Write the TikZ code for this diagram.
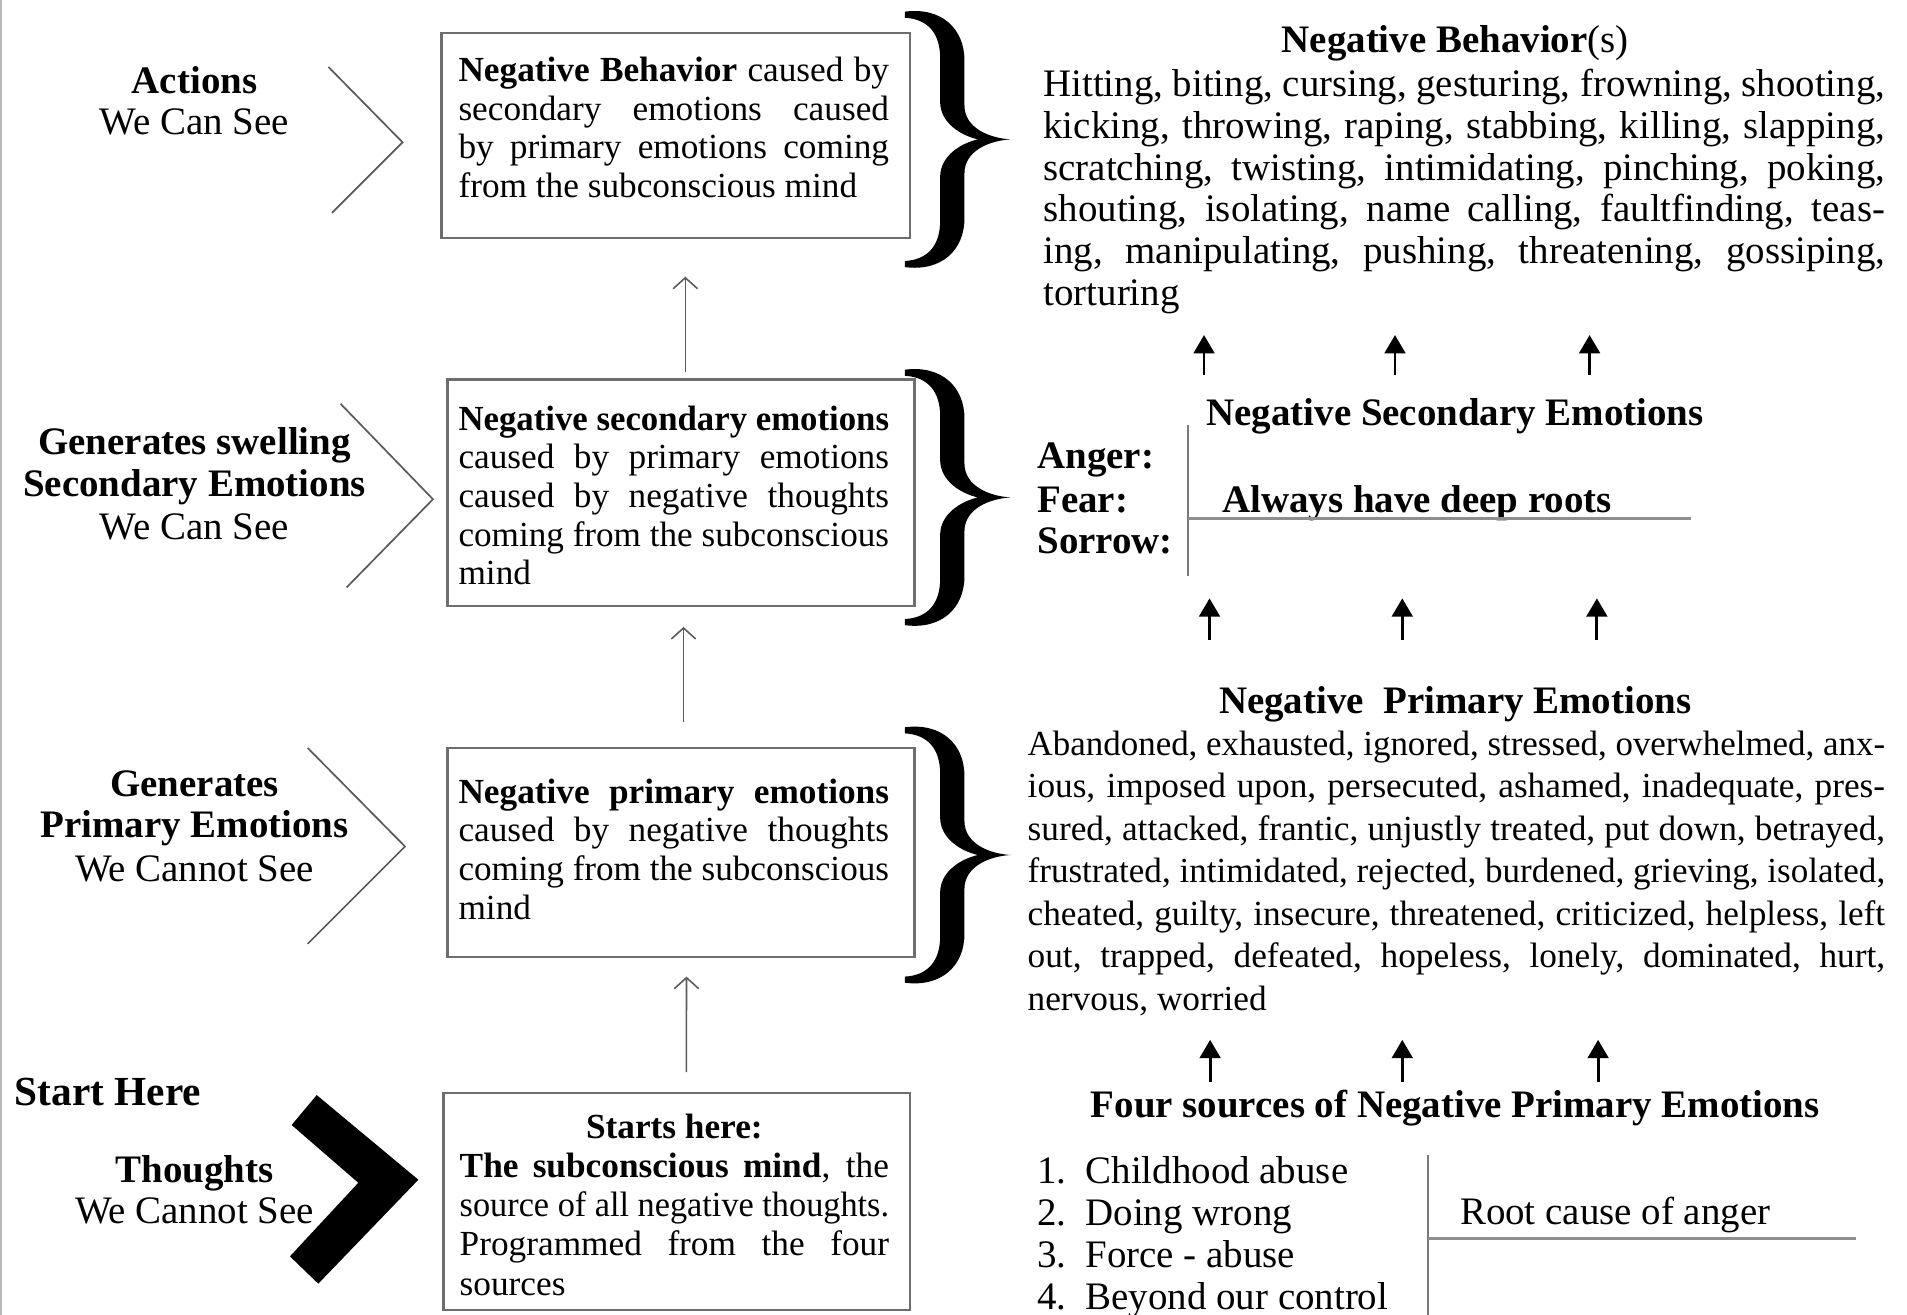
\documentclass[tikz,border=0pt]{standalone}
\usepackage{fontspec}
\setmainfont{Liberation Serif}
\usepackage{graphicx}
\usetikzlibrary{arrows.meta}
\definecolor{boxgray}{HTML}{6E6E6E}
\definecolor{chevgray}{HTML}{5A5A5A}
\definecolor{arrgray}{HTML}{5A5A5A}
\definecolor{rulegray}{HTML}{7A7A7A}
\newlength\jlen
\newcommand\jline[2]{\settowidth\jlen{#2}\ifdim\jlen>#1\relax\resizebox{#1}{\height}{#2}\else\makebox[#1][s]{#2}\fi}
\newcommand\boxfont{\fontsize{29}{31.8}\selectfont}
\tikzset{
  boxst/.style={draw=boxgray, line width=1.8pt, inner sep=0pt, outer sep=0pt},
  txt/.style={inner sep=0pt, outer sep=0pt},
  lab/.style={txt, anchor=base, font=\fontsize{32}{36}\selectfont},
  big/.style={txt, font=\fontsize{32}{36}\selectfont},
  chev/.style={draw=chevgray, line width=1.4pt},
  uparr/.style={draw=arrgray, line width=1.3pt, -{Straight Barb[length=9pt,width=20pt]}},
  blarr/.style={draw=black, line width=2.3pt, arrows={-Triangle[length=15pt,width=17pt]}},
  rulev/.style={draw=rulegray, line width=1.4pt},
  ruleh/.style={draw=rulegray!85, line width=2.4pt},
  mybrace/.pic={
    \fill[black] (0,0) .. controls (30,-4) and (49,14) .. (49,40)
      -- (49,77) .. controls (49,96) and (70,104) .. (87,105)
      .. controls (70,106) and (49,114) .. (49,133)
      -- (49,170) .. controls (49,196) and (30,214) .. (0,210)
      -- (0,205) .. controls (19,204) and (29,192) .. (29,172)
      -- (29,136) .. controls (29,118) and (47,108) .. (60,105)
      .. controls (47,102) and (29,92) .. (29,74)
      -- (29,38) .. controls (29,18) and (19,6) .. (0,5) -- cycle;
  }
}
\begin{document}
\begin{tikzpicture}[x=1pt,y=-1pt]
\fill[white] (0,0) rectangle (1568,1081);
\useasboundingbox (0,0) rectangle (1568,1081);
\draw[draw=gray!55, line width=1.5pt] (1,0) -- (1,1081);

% ---------- left labels ----------
\node[lab] (l1a) at (160,76.6) {\textbf{Actions}};
\node[lab] (l1b) at (160,111) {We Can See};
\node[lab] (l2a) at (160,374) {\textbf{Generates swelling}};
\node[lab] (l2b) at (160,408.5) {\textbf{Secondary Emotions}};
\node[lab] (l2c) at (160,444) {We Can See};
\node[lab] (l3a) at (160,655) {\textbf{Generates}};
\node[lab] (l3b) at (160,689) {\textbf{Primary Emotions}};
\node[lab] (l3c) at (160,725) {We Cannot See};
\node[txt, anchor=base west, font=\fontsize{34}{38}\selectfont\bfseries] (start) at (12,908.6) {Start Here};
\node[lab] (l4a) at (160,972) {\textbf{Thoughts}};
\node[lab] (l4b) at (160,1006) {We Cannot See};

% chevrons
\draw[chev] (270,55) -- (331,117) -- (273,175);
\draw[chev] (280,332) -- (356,410.5) -- (285,483);
\draw[chev] (253,615) -- (333,696) -- (253,776);
\fill[black] (239.8,925) -- (260.4,900.4) -- (344,970) -- (261.7,1055.5) -- (238.4,1033) -- (294.6,972.5) -- cycle;

% ---------- boxes ----------
\node[boxst, minimum width=385pt, minimum height=169pt] (b1) at (555.5,111.5) {};
\node[boxst, minimum width=384pt, minimum height=186pt] (b2) at (560,405) {};
\node[boxst, minimum width=384pt, minimum height=172pt] (b3) at (560,701) {};
\node[boxst, minimum width=383.4pt, minimum height=178pt] (b4) at (556.3,988) {};

\node[txt, anchor=base west] (t1) at (377,67) {\parbox[t]{354pt}{\boxfont
\jline{354pt}{\textbf{Negative Behavior} caused by}\\
\jline{354pt}{secondary emotions caused}\\
\jline{354pt}{by primary emotions coming}\\
from the subconscious mind}};

\node[txt, anchor=base west] (t2) at (377,353.6) {\parbox[t]{354pt}{\boxfont
\jline{354pt}{\textbf{Negative secondary emotions}}\\
\jline{354pt}{caused by primary emotions}\\
\jline{354pt}{caused by negative thoughts}\\
\jline{354pt}{coming from the subconscious}\\
mind}};

\node[txt, anchor=base west] (t3) at (377,660.5) {\parbox[t]{354pt}{\boxfont
\jline{354pt}{\textbf{Negative primary emotions}}\\
\jline{354pt}{caused by negative thoughts}\\
\jline{354pt}{coming from the subconscious}\\
mind}};

\node[txt, anchor=base west] (t4) at (378,936) {\parbox[t]{353pt}{\fontsize{29}{32.2}\selectfont
\makebox[353pt]{\textbf{Starts here:}}\\
\jline{353pt}{\textbf{The subconscious mind}, the}\\
\jline{353pt}{source of all negative thoughts.}\\
\jline{353pt}{Programmed from the four}\\
sources}};

% arrows between boxes
\draw[uparr, shorten <=6pt, shorten >=31.5pt] ([xshift=3.5pt]b2.north) -- ([xshift=8pt]b1.south);
\draw[uparr, shorten <=21.4pt, shorten >=17.5pt] ([xshift=2pt]b3.north) -- ([xshift=2pt]b2.south);
\draw[uparr, shorten <=17.4pt, shorten >=16pt] ([xshift=8pt]b4.north) -- ([xshift=4.5pt]b3.south);

% braces
\pic at (744,9.6) {mybrace};
\pic at (744,304) {mybrace};
\pic at (744,598) {mybrace};

% ---------- right: behaviours ----------
\node[big, anchor=base] (nbt) at (1196.5,43.5) {\textbf{Negative Behavior}(s)};
\node[txt, anchor=base west] (nbp) at (858,79.5) {\parbox[t]{692pt}{\fontsize{32}{34.3}\selectfont
\jline{692pt}{Hitting, biting, cursing, gesturing, frowning, shooting,}\\
\jline{692pt}{kicking, throwing, raping, stabbing, killing, slapping,}\\
\jline{692pt}{scratching, twisting, intimidating, pinching, poking,}\\
\jline{692pt}{shouting, isolating, name calling, faultfinding, teas-}\\
\jline{692pt}{ing, manipulating, pushing, threatening, gossiping,}\\
torturing}};

% arrows row A
\coordinate (aA1s) at (990,308);   \coordinate (aA1e) at (990,275.5);
\coordinate (aA2s) at (1147,308);  \coordinate (aA2e) at (1147,275.5);
\coordinate (aA3s) at (1307,308);  \coordinate (aA3e) at (1307,275.5);
\draw[blarr] (aA1s) -- (aA1e);
\draw[blarr] (aA2s) -- (aA2e);
\draw[blarr] (aA3s) -- (aA3e);

% ---------- right: secondary ----------
\node[big, anchor=base west] (nst) at (992,349.5) {\textbf{Negative Secondary Emotions}};
\node[big, anchor=base west] (ang) at (853,385) {\textbf{Anger:}};
\node[big, anchor=base west] (fea) at (853,421) {\textbf{Fear:}};
\node[big, anchor=base west] (sor) at (853,455) {\textbf{Sorrow:}};
\node[big, anchor=base west] (roots) at (1005,421) {\textbf{Always have deep roots}};
\draw[rulev] (977,349.5) -- (977,474);
\draw[ruleh] (977,426) -- (1390,426);

% arrows row B
\coordinate (aB1s) at (994.5,526);  \coordinate (aB1e) at (994.5,492);
\coordinate (aB2s) at (1153,526);   \coordinate (aB2e) at (1153,492);
\coordinate (aB3s) at (1313,526);   \coordinate (aB3e) at (1313,492);
\draw[blarr] (aB1s) -- (aB1e);
\draw[blarr] (aB2s) -- (aB2e);
\draw[blarr] (aB3s) -- (aB3e);

% ---------- right: primary ----------
\node[big, anchor=base] (npt) at (1196.5,586.5) {\textbf{Negative\ \ Primary Emotions}};
\node[txt, anchor=base west] (npp) at (845,621) {\parbox[t]{705pt}{\fontsize{29}{34.95}\selectfont
\jline{705pt}{Abandoned, exhausted, ignored, stressed, overwhelmed, anx-}\\
\jline{705pt}{ious, imposed upon, persecuted, ashamed, inadequate, pres-}\\
\jline{705pt}{sured, attacked, frantic, unjustly treated, put down, betrayed,}\\
\jline{705pt}{frustrated, intimidated, rejected, burdened, grieving, isolated,}\\
\jline{705pt}{cheated, guilty, insecure, threatened, criticized, helpless, left}\\
\jline{705pt}{out, trapped, defeated, hopeless, lonely, dominated, hurt,}\\
nervous, worried}};

% arrows row C
\coordinate (aC1s) at (995,889.6);  \coordinate (aC1e) at (995,855);
\coordinate (aC2s) at (1153,889.6); \coordinate (aC2e) at (1153,855);
\coordinate (aC3s) at (1314,889.6); \coordinate (aC3e) at (1314,855);
\draw[blarr] (aC1s) -- (aC1e);
\draw[blarr] (aC2s) -- (aC2e);
\draw[blarr] (aC3s) -- (aC3e);

% ---------- right: four sources ----------
\node[big, anchor=base] (nfs) at (1196.5,919) {\textbf{Four sources of Negative Primary Emotions}};
\node[big, anchor=base west] (n1) at (853,973) {1.};
\node[big, anchor=base west] (s1) at (892.6,973) {Childhood abuse};
\node[big, anchor=base west] (n2) at (853,1008) {2.};
\node[big, anchor=base west] (s2) at (892.6,1008) {Doing wrong};
\node[big, anchor=base west] (n3) at (853,1042.5) {3.};
\node[big, anchor=base west] (s3) at (892.6,1042.5) {Force - abuse};
\node[big, anchor=base west] (n4) at (853,1077) {4.};
\node[big, anchor=base west] (s4) at (892.6,1077) {Beyond our control};
\node[big, anchor=base west] (root) at (1200.5,1007) {Root cause of anger};
\draw[rulev] (1174,950) -- (1174,1090);
\draw[ruleh] (1174,1018) -- (1526,1018);
\end{tikzpicture}
\end{document}
